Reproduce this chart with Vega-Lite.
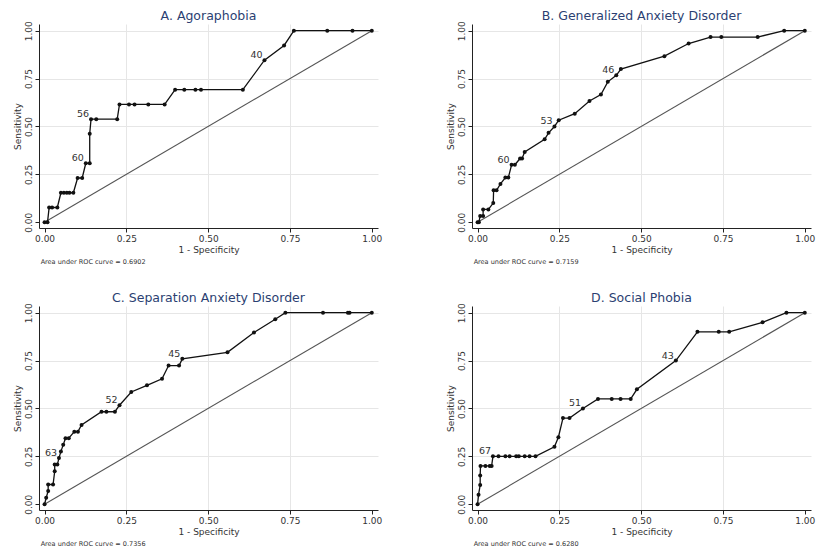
{
  "$schema": "https://vega.github.io/schema/vega-lite/v6.json",
  "background": "white",
  "padding": {"left": 12, "top": 10, "right": 5, "bottom": 2},
  "datasets": {
    "roc": [
      {"p":"A","x":0,"y":0},{"p":"A","x":0.009,"y":0},{"p":"A","x":0.014,"y":0.077},{"p":"A","x":0.023,"y":0.077},{"p":"A","x":0.039,"y":0.077},
      {"p":"A","x":0.05,"y":0.154},{"p":"A","x":0.059,"y":0.154},{"p":"A","x":0.068,"y":0.154},{"p":"A","x":0.076,"y":0.154},{"p":"A","x":0.088,"y":0.154},
      {"p":"A","x":0.101,"y":0.231},{"p":"A","x":0.115,"y":0.231},{"p":"A","x":0.126,"y":0.308,"lab":"60"},{"p":"A","x":0.138,"y":0.308},{"p":"A","x":0.138,"y":0.462},
      {"p":"A","x":0.142,"y":0.538,"lab":"56"},{"p":"A","x":0.158,"y":0.538},{"p":"A","x":0.222,"y":0.538},{"p":"A","x":0.229,"y":0.615},{"p":"A","x":0.258,"y":0.615},
      {"p":"A","x":0.275,"y":0.615},{"p":"A","x":0.317,"y":0.615},{"p":"A","x":0.367,"y":0.615},{"p":"A","x":0.399,"y":0.692},{"p":"A","x":0.427,"y":0.692},
      {"p":"A","x":0.461,"y":0.692},{"p":"A","x":0.478,"y":0.692},{"p":"A","x":0.606,"y":0.692},{"p":"A","x":0.672,"y":0.846,"lab":"40"},{"p":"A","x":0.732,"y":0.923},
      {"p":"A","x":0.762,"y":1},{"p":"A","x":0.864,"y":1},{"p":"A","x":0.941,"y":1},{"p":"A","x":1,"y":1},

      {"p":"B","x":0,"y":0},{"p":"B","x":0.004,"y":0},{"p":"B","x":0.008,"y":0.033},{"p":"B","x":0.017,"y":0.033},{"p":"B","x":0.017,"y":0.067},
      {"p":"B","x":0.033,"y":0.067},{"p":"B","x":0.048,"y":0.1},{"p":"B","x":0.049,"y":0.167},{"p":"B","x":0.058,"y":0.167},{"p":"B","x":0.07,"y":0.2},
      {"p":"B","x":0.085,"y":0.233},{"p":"B","x":0.094,"y":0.233},{"p":"B","x":0.104,"y":0.3,"lab":"60"},{"p":"B","x":0.114,"y":0.3},{"p":"B","x":0.13,"y":0.333},
      {"p":"B","x":0.136,"y":0.333},{"p":"B","x":0.144,"y":0.367},{"p":"B","x":0.205,"y":0.433},{"p":"B","x":0.217,"y":0.467},{"p":"B","x":0.235,"y":0.5,"lab":"53"},
      {"p":"B","x":0.248,"y":0.533},{"p":"B","x":0.297,"y":0.567},{"p":"B","x":0.342,"y":0.633},{"p":"B","x":0.377,"y":0.667},{"p":"B","x":0.398,"y":0.733},
      {"p":"B","x":0.424,"y":0.767,"lab":"46"},{"p":"B","x":0.438,"y":0.8},{"p":"B","x":0.571,"y":0.867},{"p":"B","x":0.645,"y":0.933},{"p":"B","x":0.712,"y":0.967},
      {"p":"B","x":0.745,"y":0.967},{"p":"B","x":0.856,"y":0.967},{"p":"B","x":0.937,"y":1},{"p":"B","x":1,"y":1},

      {"p":"C","x":0,"y":0},{"p":"C","x":0.005,"y":0.034},{"p":"C","x":0.011,"y":0.069},{"p":"C","x":0.011,"y":0.103},{"p":"C","x":0.026,"y":0.103},
      {"p":"C","x":0.031,"y":0.172},{"p":"C","x":0.031,"y":0.207},{"p":"C","x":0.039,"y":0.207},{"p":"C","x":0.044,"y":0.241,"lab":"63"},{"p":"C","x":0.05,"y":0.276},
      {"p":"C","x":0.057,"y":0.31},{"p":"C","x":0.064,"y":0.345},{"p":"C","x":0.074,"y":0.345},{"p":"C","x":0.091,"y":0.379},{"p":"C","x":0.102,"y":0.379},
      {"p":"C","x":0.113,"y":0.414},{"p":"C","x":0.174,"y":0.483},{"p":"C","x":0.189,"y":0.483},{"p":"C","x":0.215,"y":0.483},{"p":"C","x":0.229,"y":0.517,"lab":"52"},
      {"p":"C","x":0.265,"y":0.586},{"p":"C","x":0.313,"y":0.621},{"p":"C","x":0.359,"y":0.655},{"p":"C","x":0.379,"y":0.724},{"p":"C","x":0.411,"y":0.724},
      {"p":"C","x":0.421,"y":0.759,"lab":"45"},{"p":"C","x":0.559,"y":0.793},{"p":"C","x":0.64,"y":0.897},{"p":"C","x":0.705,"y":0.966},{"p":"C","x":0.736,"y":1},
      {"p":"C","x":0.851,"y":1},{"p":"C","x":0.927,"y":1},{"p":"C","x":0.932,"y":1},{"p":"C","x":1,"y":1},

      {"p":"D","x":0,"y":0},{"p":"D","x":0.003,"y":0.05},{"p":"D","x":0.008,"y":0.1},{"p":"D","x":0.008,"y":0.15},{"p":"D","x":0.009,"y":0.2},
      {"p":"D","x":0.024,"y":0.2},{"p":"D","x":0.037,"y":0.2},{"p":"D","x":0.043,"y":0.2},{"p":"D","x":0.047,"y":0.25,"lab":"67"},{"p":"D","x":0.064,"y":0.25},
      {"p":"D","x":0.085,"y":0.25},{"p":"D","x":0.098,"y":0.25},{"p":"D","x":0.118,"y":0.25},{"p":"D","x":0.126,"y":0.25},{"p":"D","x":0.144,"y":0.25},
      {"p":"D","x":0.159,"y":0.25},{"p":"D","x":0.177,"y":0.25},{"p":"D","x":0.235,"y":0.3},{"p":"D","x":0.247,"y":0.35},{"p":"D","x":0.261,"y":0.45},
      {"p":"D","x":0.281,"y":0.45},{"p":"D","x":0.322,"y":0.5,"lab":"51"},{"p":"D","x":0.368,"y":0.55},{"p":"D","x":0.41,"y":0.55},{"p":"D","x":0.437,"y":0.55},
      {"p":"D","x":0.468,"y":0.55},{"p":"D","x":0.487,"y":0.6},{"p":"D","x":0.606,"y":0.75,"lab":"43"},{"p":"D","x":0.672,"y":0.9},{"p":"D","x":0.737,"y":0.9},
      {"p":"D","x":0.769,"y":0.9},{"p":"D","x":0.871,"y":0.95},{"p":"D","x":0.944,"y":1},{"p":"D","x":1,"y":1}
    ],
    "diag": [{"x":0,"y":0},{"x":1,"y":1}],
    "auc": [
      {"p":"A","t":"Area under ROC curve = 0.6902"},
      {"p":"B","t":"Area under ROC curve = 0.7159"},
      {"p":"C","t":"Area under ROC curve = 0.7356"},
      {"p":"D","t":"Area under ROC curve = 0.6280"}
    ]
  },
  "columns": 2,
  "spacing": {"column": 63, "row": 26},
  "concat": [
    {
      "title": "A. Agoraphobia",
      "width": 339, "height": 204,
      "layer": [
        {"data": {"name": "diag"}, "mark": {"type": "line", "color": "#555555", "strokeWidth": 1.1},
         "encoding": {
           "x": {"field": "x", "type": "quantitative", "scale": {"domain": [-0.017, 1.019], "nice": false, "zero": false},
                 "axis": {"values": [0, 0.25, 0.5, 0.75, 1], "format": ".2f", "title": "1 - Specificity", "gridOpacity": {"condition": {"test": "datum.value == 0 || datum.value == 1", "value": 0}, "value": 1}}},
           "y": {"field": "y", "type": "quantitative", "scale": {"domain": [-0.03, 1.035], "nice": false, "zero": false},
                 "axis": {"values": [0, 0.25, 0.5, 0.75, 1], "format": ".2f", "title": "Sensitivity", "labelAngle": 270, "labelAlign": "center", "labelBaseline": "bottom", "gridOpacity": {"condition": {"test": "datum.value == 0", "value": 0}, "value": 1}}}
         }},
        {"data": {"name": "roc"}, "transform": [{"filter": "datum.p == 'A'"}],
         "mark": {"type": "line", "color": "#111111", "strokeWidth": 1.3},
         "encoding": {"x": {"field": "x", "type": "quantitative"}, "y": {"field": "y", "type": "quantitative"},
                      "order": [{"field": "x", "type": "quantitative"}, {"field": "y", "type": "quantitative"}]}},
        {"data": {"name": "roc"}, "transform": [{"filter": "datum.p == 'A'"}],
         "mark": {"type": "circle", "size": 16, "color": "#111111", "opacity": 1},
         "encoding": {"x": {"field": "x", "type": "quantitative"}, "y": {"field": "y", "type": "quantitative"}}},
        {"data": {"name": "roc"}, "transform": [{"filter": "datum.p == 'A' && isValid(datum.lab)"}],
         "mark": {"type": "text", "dx": -8, "dy": -5, "fontSize": 9.5, "color": "#333333"},
         "encoding": {"x": {"field": "x", "type": "quantitative"}, "y": {"field": "y", "type": "quantitative"}, "text": {"field": "lab"}}},
        {"data": {"name": "auc"}, "transform": [{"filter": "datum.p == 'A'"}],
         "mark": {"type": "text", "align": "left", "baseline": "middle", "fontSize": 6.5, "color": "#333333"},
         "encoding": {"x": {"datum": -0.012, "type": "quantitative"}, "y": {"datum": -0.205, "type": "quantitative"}, "text": {"field": "t"}}}
      ]
    },
    {
      "title": "B. Generalized Anxiety Disorder",
      "width": 339, "height": 204,
      "layer": [
        {"data": {"name": "diag"}, "mark": {"type": "line", "color": "#555555", "strokeWidth": 1.1},
         "encoding": {
           "x": {"field": "x", "type": "quantitative", "scale": {"domain": [-0.017, 1.019], "nice": false, "zero": false},
                 "axis": {"values": [0, 0.25, 0.5, 0.75, 1], "format": ".2f", "title": "1 - Specificity", "gridOpacity": {"condition": {"test": "datum.value == 0 || datum.value == 1", "value": 0}, "value": 1}}},
           "y": {"field": "y", "type": "quantitative", "scale": {"domain": [-0.03, 1.035], "nice": false, "zero": false},
                 "axis": {"values": [0, 0.25, 0.5, 0.75, 1], "format": ".2f", "title": "Sensitivity", "labelAngle": 270, "labelAlign": "center", "labelBaseline": "bottom", "gridOpacity": {"condition": {"test": "datum.value == 0", "value": 0}, "value": 1}}}
         }},
        {"data": {"name": "roc"}, "transform": [{"filter": "datum.p == 'B'"}],
         "mark": {"type": "line", "color": "#111111", "strokeWidth": 1.3},
         "encoding": {"x": {"field": "x", "type": "quantitative"}, "y": {"field": "y", "type": "quantitative"},
                      "order": [{"field": "x", "type": "quantitative"}, {"field": "y", "type": "quantitative"}]}},
        {"data": {"name": "roc"}, "transform": [{"filter": "datum.p == 'B'"}],
         "mark": {"type": "circle", "size": 16, "color": "#111111", "opacity": 1},
         "encoding": {"x": {"field": "x", "type": "quantitative"}, "y": {"field": "y", "type": "quantitative"}}},
        {"data": {"name": "roc"}, "transform": [{"filter": "datum.p == 'B' && isValid(datum.lab)"}],
         "mark": {"type": "text", "dx": -8, "dy": -5, "fontSize": 9.5, "color": "#333333"},
         "encoding": {"x": {"field": "x", "type": "quantitative"}, "y": {"field": "y", "type": "quantitative"}, "text": {"field": "lab"}}},
        {"data": {"name": "auc"}, "transform": [{"filter": "datum.p == 'B'"}],
         "mark": {"type": "text", "align": "left", "baseline": "middle", "fontSize": 6.5, "color": "#333333"},
         "encoding": {"x": {"datum": -0.012, "type": "quantitative"}, "y": {"datum": -0.205, "type": "quantitative"}, "text": {"field": "t"}}}
      ]
    },
    {
      "title": "C. Separation Anxiety Disorder",
      "width": 339, "height": 204,
      "layer": [
        {"data": {"name": "diag"}, "mark": {"type": "line", "color": "#555555", "strokeWidth": 1.1},
         "encoding": {
           "x": {"field": "x", "type": "quantitative", "scale": {"domain": [-0.017, 1.019], "nice": false, "zero": false},
                 "axis": {"values": [0, 0.25, 0.5, 0.75, 1], "format": ".2f", "title": "1 - Specificity", "gridOpacity": {"condition": {"test": "datum.value == 0 || datum.value == 1", "value": 0}, "value": 1}}},
           "y": {"field": "y", "type": "quantitative", "scale": {"domain": [-0.03, 1.035], "nice": false, "zero": false},
                 "axis": {"values": [0, 0.25, 0.5, 0.75, 1], "format": ".2f", "title": "Sensitivity", "labelAngle": 270, "labelAlign": "center", "labelBaseline": "bottom", "gridOpacity": {"condition": {"test": "datum.value == 0", "value": 0}, "value": 1}}}
         }},
        {"data": {"name": "roc"}, "transform": [{"filter": "datum.p == 'C'"}],
         "mark": {"type": "line", "color": "#111111", "strokeWidth": 1.3},
         "encoding": {"x": {"field": "x", "type": "quantitative"}, "y": {"field": "y", "type": "quantitative"},
                      "order": [{"field": "x", "type": "quantitative"}, {"field": "y", "type": "quantitative"}]}},
        {"data": {"name": "roc"}, "transform": [{"filter": "datum.p == 'C'"}],
         "mark": {"type": "circle", "size": 16, "color": "#111111", "opacity": 1},
         "encoding": {"x": {"field": "x", "type": "quantitative"}, "y": {"field": "y", "type": "quantitative"}}},
        {"data": {"name": "roc"}, "transform": [{"filter": "datum.p == 'C' && isValid(datum.lab)"}],
         "mark": {"type": "text", "dx": -8, "dy": -5, "fontSize": 9.5, "color": "#333333"},
         "encoding": {"x": {"field": "x", "type": "quantitative"}, "y": {"field": "y", "type": "quantitative"}, "text": {"field": "lab"}}},
        {"data": {"name": "auc"}, "transform": [{"filter": "datum.p == 'C'"}],
         "mark": {"type": "text", "align": "left", "baseline": "middle", "fontSize": 6.5, "color": "#333333"},
         "encoding": {"x": {"datum": -0.012, "type": "quantitative"}, "y": {"datum": -0.205, "type": "quantitative"}, "text": {"field": "t"}}}
      ]
    },
    {
      "title": "D. Social Phobia",
      "width": 339, "height": 204,
      "layer": [
        {"data": {"name": "diag"}, "mark": {"type": "line", "color": "#555555", "strokeWidth": 1.1},
         "encoding": {
           "x": {"field": "x", "type": "quantitative", "scale": {"domain": [-0.017, 1.019], "nice": false, "zero": false},
                 "axis": {"values": [0, 0.25, 0.5, 0.75, 1], "format": ".2f", "title": "1 - Specificity", "gridOpacity": {"condition": {"test": "datum.value == 0 || datum.value == 1", "value": 0}, "value": 1}}},
           "y": {"field": "y", "type": "quantitative", "scale": {"domain": [-0.03, 1.035], "nice": false, "zero": false},
                 "axis": {"values": [0, 0.25, 0.5, 0.75, 1], "format": ".2f", "title": "Sensitivity", "labelAngle": 270, "labelAlign": "center", "labelBaseline": "bottom", "gridOpacity": {"condition": {"test": "datum.value == 0", "value": 0}, "value": 1}}}
         }},
        {"data": {"name": "roc"}, "transform": [{"filter": "datum.p == 'D'"}],
         "mark": {"type": "line", "color": "#111111", "strokeWidth": 1.3},
         "encoding": {"x": {"field": "x", "type": "quantitative"}, "y": {"field": "y", "type": "quantitative"},
                      "order": [{"field": "x", "type": "quantitative"}, {"field": "y", "type": "quantitative"}]}},
        {"data": {"name": "roc"}, "transform": [{"filter": "datum.p == 'D'"}],
         "mark": {"type": "circle", "size": 16, "color": "#111111", "opacity": 1},
         "encoding": {"x": {"field": "x", "type": "quantitative"}, "y": {"field": "y", "type": "quantitative"}}},
        {"data": {"name": "roc"}, "transform": [{"filter": "datum.p == 'D' && isValid(datum.lab)"}],
         "mark": {"type": "text", "dx": -8, "dy": -5, "fontSize": 9.5, "color": "#333333"},
         "encoding": {"x": {"field": "x", "type": "quantitative"}, "y": {"field": "y", "type": "quantitative"}, "text": {"field": "lab"}}},
        {"data": {"name": "auc"}, "transform": [{"filter": "datum.p == 'D'"}],
         "mark": {"type": "text", "align": "left", "baseline": "middle", "fontSize": 6.5, "color": "#333333"},
         "encoding": {"x": {"datum": -0.012, "type": "quantitative"}, "y": {"datum": -0.205, "type": "quantitative"}, "text": {"field": "t"}}}
      ]
    }
  ],
  "config": {
    "font": "DejaVu Sans",
    "view": {"stroke": null},
    "title": {"fontSize": 12.5, "fontWeight": "normal", "color": "#2b3f72", "offset": -2, "anchor": "middle", "frame": "group", "font": "DejaVu Sans"},
    "axis": {
      "domainColor": "#222222", "domainWidth": 1, "tickColor": "#222222", "tickSize": 4, "tickWidth": 1,
      "labelFontSize": 9, "labelColor": "#333333", "labelPadding": 2, "labelFlush": false,
      "titleFontSize": 9, "titleFontWeight": "normal", "titleColor": "#333333", "titlePadding": 2,
      "gridColor": "#e6e6e6", "gridWidth": 1
    }
  }
}
